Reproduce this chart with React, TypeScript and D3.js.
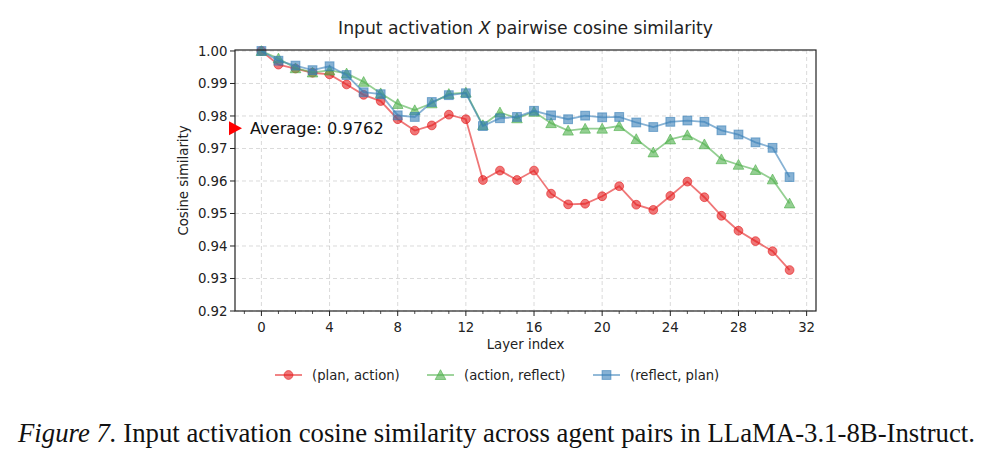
import React from "react";
import * as d3 from "d3";

const layers = d3.range(0, 32);
const planAction = [1.0, 0.9958, 0.9946, 0.9933, 0.9928, 0.9897, 0.9865, 0.9846, 0.979, 0.9755, 0.9771, 0.9804, 0.979, 0.9603, 0.9632, 0.9603, 0.9632, 0.9561, 0.9528, 0.953, 0.9553, 0.9584, 0.9527, 0.9511, 0.9554, 0.9598, 0.955, 0.9493, 0.9447, 0.9415, 0.9384, 0.9326];
const actionReflect = [1.0, 0.9977, 0.9947, 0.9934, 0.994, 0.9931, 0.9905, 0.987, 0.9837, 0.9818, 0.9839, 0.9868, 0.9872, 0.9772, 0.9811, 0.9793, 0.9813, 0.9778, 0.9755, 0.9761, 0.9761, 0.9769, 0.9729, 0.9688, 0.9728, 0.9741, 0.9713, 0.9667, 0.965, 0.9634, 0.9605, 0.9531];
const reflectPlan = [1.0, 0.997, 0.9955, 0.9941, 0.9953, 0.9926, 0.9873, 0.9867, 0.9802, 0.9797, 0.9843, 0.9864, 0.987, 0.9769, 0.9793, 0.9797, 0.9816, 0.9802, 0.979, 0.9801, 0.9796, 0.9797, 0.978, 0.9766, 0.9782, 0.9786, 0.9782, 0.9756, 0.9743, 0.9719, 0.9702, 0.9612];
const seriesNames = ["(plan, action)", "(action, reflect)", "(reflect, plan)"];
const seriesColors = ["#e41a1c", "#4daf4a", "#377eb8"];
const seriesShapes = ["circle", "triangle", "square"];
const xTicks = [0, 4, 8, 12, 16, 20, 24, 28, 32];
const yTicks = [0.92, 0.93, 0.94, 0.95, 0.96, 0.97, 0.98, 0.99, 1.0];
const averageValue = 0.9762;

const W = 993;
const H = 461;
const M = { left: 235, right: 816, top: 50, bottom: 311 };
const FONT = "'DejaVu Sans', sans-serif";

function Marker({ shape, cx, cy, color }: { shape: string; cx: number; cy: number; color: string }) {
  const common = { fill: color, fillOpacity: 0.6, stroke: color, strokeOpacity: 0.6, strokeWidth: 1 };
  if (shape === "circle") return <circle cx={cx} cy={cy} r={4.4} {...common} />;
  if (shape === "square") return <rect x={cx - 4.4} y={cy - 4.4} width={8.8} height={8.8} {...common} />;
  const s = 5.3;
  return <path d={`M${cx},${cy - s} L${cx + s},${cy + s * 0.85} L${cx - s},${cy + s * 0.85} Z`} {...common} />;
}

export default function App() {
  const x = d3.scaleLinear().domain([-1.55, 32.55]).range([M.left, M.right]);
  const y = d3.scaleLinear().domain([0.92, 1.0003]).range([M.bottom, M.top]);
  const all = [planAction, actionReflect, reflectPlan];
  const line = d3.line<number>().x((_, i) => x(layers[i])).y((d) => y(d));
  const minorX = d3.range(-1, 33).filter((v) => v % 4 !== 0);
  const cx = (M.left + M.right) / 2;
  const legendX = [275, 427, 593];

  return (
    <svg width={W} height={H} style={{ position: "absolute", left: 0, top: 0, background: "#fff" }}>
      <rect width={W} height={H} fill="#fff" />
      {xTicks.map((t) => (
        <line key={"gx" + t} x1={x(t)} x2={x(t)} y1={M.top} y2={M.bottom} stroke="#b0b0b0" strokeOpacity={0.6} strokeDasharray="4,3" strokeWidth={0.8} />
      ))}
      {yTicks.map((t) => (
        <line key={"gy" + t} x1={M.left} x2={M.right} y1={y(t)} y2={y(t)} stroke="#b0b0b0" strokeOpacity={0.6} strokeDasharray="4,3" strokeWidth={0.8} />
      ))}
      {all.map((data, si) => (
        <g key={si}>
          <path d={line(data) || ""} fill="none" stroke={seriesColors[si]} strokeOpacity={0.6} strokeWidth={1.8} />
          {data.map((v, i) => (
            <Marker key={i} shape={seriesShapes[si]} cx={x(layers[i])} cy={y(v)} color={seriesColors[si]} />
          ))}
        </g>
      ))}
      <rect x={M.left} y={M.top} width={M.right - M.left} height={M.bottom - M.top} fill="none" stroke="#222" strokeWidth={1.2} />
      {xTicks.map((t) => (
        <g key={"xt" + t}>
          <line x1={x(t)} x2={x(t)} y1={M.bottom} y2={M.bottom + 5} stroke="#222" strokeWidth={1} />
          <text x={x(t)} y={M.bottom + 20.5} textAnchor="middle" fontFamily={FONT} fontSize={13.3} fill="#222">{t}</text>
        </g>
      ))}
      {minorX.map((t) => (
        <line key={"mx" + t} x1={x(t)} x2={x(t)} y1={M.bottom} y2={M.bottom + 3} stroke="#222" strokeWidth={0.8} />
      ))}
      {yTicks.map((t) => (
        <g key={"yt" + t}>
          <line x1={M.left - 5} x2={M.left} y1={y(t)} y2={y(t)} stroke="#222" strokeWidth={1} />
          <text x={M.left - 7.5} y={y(t) + 4.8} textAnchor="end" fontFamily={FONT} fontSize={13.3} fill="#222">{t.toFixed(2)}</text>
        </g>
      ))}
      <text x={cx} y={349} textAnchor="middle" fontFamily={FONT} fontSize={13.3} fill="#222">Layer index</text>
      <text transform={`translate(188,${(M.top + M.bottom) / 2}) rotate(-90)`} textAnchor="middle" fontFamily={FONT} fontSize={13.3} fill="#222">Cosine similarity</text>
      <text x={cx} y={34} textAnchor="middle" fontFamily={FONT} fontSize={17.2} fill="#222">
        Input activation <tspan fontStyle="italic">X</tspan> pairwise cosine similarity
      </text>
      <path d={`M${M.left - 6},${y(averageValue) - 7} L${M.left + 7},${y(averageValue)} L${M.left - 6},${y(averageValue) + 7} Z`} fill="#ff0000" />
      <text x={250} y={y(averageValue) + 6} fontFamily={FONT} fontSize={16.2} fill="#111">Average: {averageValue.toFixed(4)}</text>
      {seriesNames.map((n, i) => (
        <g key={n}>
          <line x1={legendX[i]} x2={legendX[i] + 27} y1={375} y2={375} stroke={seriesColors[i]} strokeOpacity={0.6} strokeWidth={1.8} />
          <Marker shape={seriesShapes[i]} cx={legendX[i] + 13.5} cy={375} color={seriesColors[i]} />
          <text x={legendX[i] + 37} y={379.8} fontFamily={FONT} fontSize={13.2} fill="#222">{n}</text>
        </g>
      ))}
      <text x={18} y={442} fontFamily="'Liberation Serif', 'Times New Roman', serif" fontSize={26.5} fill="#111" textLength={957} lengthAdjust="spacingAndGlyphs">
        <tspan fontStyle="italic">Figure 7.</tspan> Input activation cosine similarity across agent pairs in LLaMA-3.1-8B-Instruct.
      </text>
    </svg>
  );
}
